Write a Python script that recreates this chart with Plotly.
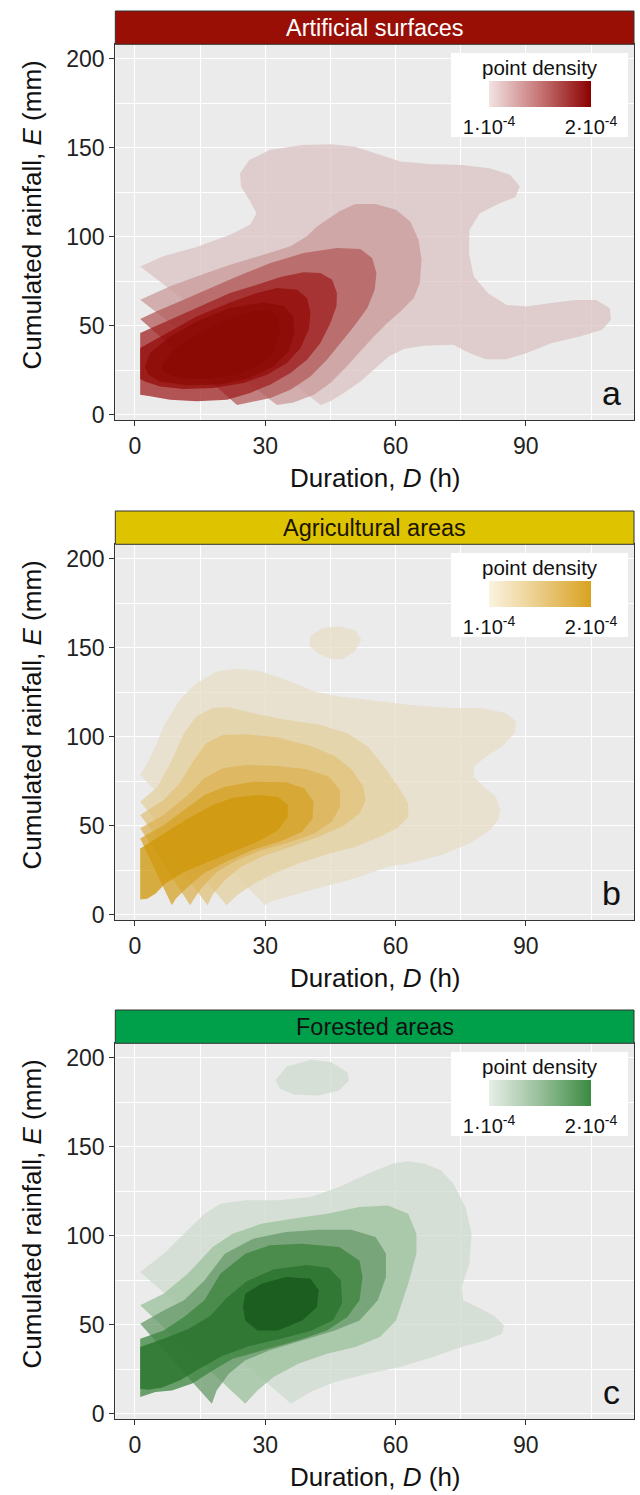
import plotly.graph_objects as go

W, H = 640, 1495

# ---------------------------------------------------------------------------
# Density level outlines (outer level first): duration D (h), rainfall E (mm)
# ---------------------------------------------------------------------------
ART_D = [
    [1.2, 6.5, 14.2, 21.9, 26.5, 28.0, 26.3, 24.4, 24.2, 26.3, 31.0, 38.5, 45.1, 50.7, 56.4, 61.1, 67.6,
     75.2, 81.7, 86.4, 88.6, 87.6, 83.6, 79.4, 77.0, 76.9, 78.0, 81.3, 85.5, 90.2, 95.8, 101.5, 106.2,
     109.3, 109.6, 107.6, 102.4, 95.8, 90.2, 85.5, 80.8, 77.0, 73.3, 66.5, 61.9, 58.5, 55.4, 51.9, 48.1,
     45.0, 42.8],
    [1.2, 8.1, 14.2, 21.9, 29.6, 35.8, 39.6, 41.9, 47.0, 50.7, 55.4, 60.1, 63.4, 65.3, 66.0, 65.6, 64.2,
     61.2, 58.1, 55.0, 51.9, 48.8, 45.0, 41.2, 36.5, 32.7],
    [1.2, 5.0, 10.4, 16.5, 23.5, 31.2, 38.8, 46.5, 51.9, 54.6, 55.6, 55.2, 53.5, 50.4, 47.3, 44.2, 40.4,
     35.8, 31.2, 26.5, 23.5],
    [1.2, 5.0, 10.4, 16.5, 21.9, 28.1, 33.5, 38.8, 42.7, 45.4, 46.5, 46.4, 45.0, 42.7, 39.6, 35.8, 31.2,
     26.5, 21.2, 14.2, 8.1, 3.5, 1.2],
    [1.2, 6.5, 14.2, 21.9, 28.1, 32.7, 37.3, 39.6, 40.4, 40.0, 38.1, 35.0, 30.4, 25.0, 18.1, 11.2, 5.8,
     2.3, 1.2],
    [2.3, 3.5, 8.1, 14.2, 21.9, 29.6, 34.2, 36.4, 36.7, 35.4, 31.9, 26.5, 19.6, 11.9, 5.8, 3.1],
    [6.2, 8.8, 14.2, 21.2, 27.3, 31.2, 33.1, 33.3, 31.9, 28.8, 23.5, 16.5, 10.4, 6.9],
]
ART_E = [
    [83.3, 89.0, 94.2, 101.1, 106.7, 113.2, 120.7, 128.2, 135.6, 143.1, 148.7, 151.5, 152.0, 150.6, 146.0,
     142.2, 140.9, 140.3, 138.4, 134.7, 128.2, 122.2, 118.4, 113.2, 103.8, 90.7, 77.6, 68.3, 61.7, 60.8,
     62.7, 64.5, 64.5, 59.9, 53.3, 47.7, 44.0, 40.2, 34.6, 31.2, 31.2, 34.6, 39.3, 38.8, 36.9, 32.8, 26.2,
     18.7, 12.2, 7.5, 5.4],
    [64.6, 72.1, 77.7, 84.3, 89.9, 94.6, 100.2, 105.8, 114.1, 118.4, 118.4, 115.1, 108.5, 98.2, 87.0, 74.0,
     65.5, 58.1, 51.5, 44.0, 35.6, 27.2, 17.8, 11.2, 6.9, 5.4],
    [53.7, 58.1, 63.7, 70.2, 77.7, 85.2, 90.8, 93.6, 93.1, 88.0, 79.6, 70.2, 59.9, 49.6, 40.3, 30.9, 21.5,
     14.0, 9.4, 6.9, 5.4],
    [45.9, 50.0, 56.2, 62.7, 68.4, 73.0, 77.3, 80.0, 79.6, 75.8, 68.4, 60.9, 51.5, 40.3, 30.9, 23.4, 16.9,
     12.2, 8.4, 7.5, 8.4, 10.3, 11.2],
    [37.5, 44.9, 55.2, 63.1, 68.4, 71.2, 70.2, 65.5, 57.1, 47.8, 37.5, 29.0, 22.5, 17.8, 15.0, 14.4, 15.9,
     18.7, 20.0],
    [27.2, 34.6, 44.0, 52.4, 59.9, 63.1, 61.2, 55.2, 45.9, 35.6, 27.2, 20.6, 16.9, 16.5, 18.7, 22.5],
    [27.2, 36.5, 44.9, 53.4, 58.1, 58.6, 54.3, 45.9, 35.6, 28.1, 22.5, 20.0, 20.4, 23.4],
]
ART_ISLAND_D = []
ART_ISLAND_E = []

AGR_D = [
    [1.2, 2.8, 4.7, 6.6, 10.3, 14.1, 18.8, 23.5, 29.1, 34.8, 41.3, 47.0, 53.6, 62.9, 72.3, 79.9, 85.5,
     87.8, 87.4, 84.5, 80.8, 78.0, 78.0, 80.3, 83.1, 84.1, 83.6, 81.7, 77.0, 70.5, 62.9, 58.2, 51.7, 46.0,
     40.4, 34.8, 31.0, 29.9],
    [1.2, 5.2, 8.5, 11.3, 14.1, 17.9, 21.6, 27.2, 34.8, 42.3, 48.9, 53.6, 57.3, 60.6, 62.9, 62.9, 60.6,
     56.4, 50.7, 44.2, 37.6, 32.0, 27.2, 23.5, 21.1],
    [1.2, 6.6, 10.3, 13.6, 16.4, 20.2, 25.4, 32.9, 40.4, 46.0, 50.0, 52.6, 53.1, 51.7, 47.9, 42.3, 35.7,
     29.1, 24.4, 20.7, 18.0, 16.7],
    [1.2, 6.6, 12.2, 16.0, 20.2, 25.4, 32.9, 39.5, 44.6, 47.2, 47.2, 45.3, 41.3, 35.7, 29.1, 23.5, 18.8,
     15.5, 13.6, 12.7],
    [1.2, 6.6, 11.3, 16.0, 20.7, 27.2, 34.8, 39.0, 41.1, 40.9, 38.5, 33.8, 27.2, 21.6, 16.0, 11.7, 9.4, 8.5],
    [1.2, 6.6, 12.2, 17.9, 22.5, 28.2, 32.9, 35.2, 35.2, 32.9, 28.2, 22.5, 16.9, 11.3, 7.0, 4.7, 2.8, 1.2],
]
AGR_E = [
    [78.5, 85.1, 94.5, 105.7, 120.8, 130.1, 136.7, 138.2, 136.7, 132.0, 125.4, 122.6, 120.8, 117.9, 116.1,
     116.1, 113.2, 108.5, 102.0, 94.5, 88.8, 83.2, 77.6, 71.9, 66.3, 58.8, 53.1, 47.5, 40.0, 33.4, 28.7,
     26.9, 21.2, 17.5, 13.7, 10.0, 7.1, 5.3],
    [63.5, 71.9, 86.9, 102.0, 111.4, 116.1, 116.6, 113.2, 109.5, 106.9, 102.0, 94.5, 83.2, 71.9, 62.5, 55.0,
     49.0, 43.8, 38.1, 34.0, 28.7, 23.1, 17.1, 10.9, 5.3],
    [56.0, 64.4, 73.8, 86.9, 96.3, 101.0, 101.4, 99.5, 94.8, 89.2, 81.3, 71.9, 64.4, 56.9, 49.8, 43.8, 38.1,
     32.5, 26.9, 19.3, 11.8, 5.3],
    [48.5, 56.0, 67.2, 76.6, 82.3, 84.1, 83.6, 81.7, 77.6, 70.0, 60.7, 52.2, 45.6, 40.9, 36.2, 30.6, 24.0,
     15.6, 9.0, 5.3],
    [42.8, 50.3, 58.8, 67.2, 71.9, 74.7, 74.4, 71.0, 63.5, 54.1, 46.6, 41.5, 36.5, 30.5, 23.5, 14.6, 9.0, 5.3],
    [37.2, 45.6, 54.1, 61.6, 65.7, 67.2, 66.3, 61.6, 55.0, 47.5, 40.9, 35.3, 29.7, 24.0, 17.5, 11.8, 9.0, 8.5],
]
AGR_ISLAND_D = [40.4, 43.2, 47.0, 50.7, 52.1, 50.7, 47.9, 45.1, 42.3, 40.2]
AGR_ISLAND_E = [156.8, 161.1, 162.0, 159.8, 154.5, 148.0, 143.7, 143.7, 146.6, 150.8]

FOR_D = [
    [1.2, 6.6, 11.3, 16.0, 19.7, 25.4, 32.9, 40.4, 47.0, 53.6, 59.2, 62.9, 66.7, 70.5, 73.3, 76.1, 77.5,
     77.0, 75.2, 75.6, 78.9, 82.6, 85.0, 84.5, 80.8, 75.2, 68.6, 61.1, 53.6, 46.0, 40.4, 35.9],
    [1.2, 6.6, 12.2, 17.9, 22.5, 29.1, 36.6, 44.2, 51.7, 58.2, 62.9, 64.8, 64.8, 62.9, 60.1, 56.4, 50.7,
     44.2, 37.6, 31.9, 28.2, 25.4],
    [1.2, 6.6, 11.3, 16.0, 20.7, 27.2, 34.8, 42.3, 49.8, 55.4, 57.8, 57.8, 55.9, 51.7, 46.0, 38.5, 31.0,
     25.4, 21.6, 18.8, 17.7],
    [1.2, 6.6, 11.3, 16.0, 19.7, 25.4, 31.0, 38.5, 47.0, 51.7, 52.4, 51.7, 48.9, 44.2, 37.6, 29.1, 22.5,
     17.9, 13.2, 8.5, 4.7, 1.2],
    [1.2, 6.6, 12.2, 17.4, 21.1, 25.8, 31.9, 39.5, 44.6, 47.4, 47.7, 45.6, 40.4, 33.8, 26.3, 20.2, 15.0,
     10.3, 6.1, 3.0, 1.2],
    [24.9, 25.4, 29.1, 34.8, 40.4, 42.3, 41.9, 38.5, 32.9, 28.2, 25.4],
]
FOR_E = [
    [79.6, 89.9, 101.1, 112.4, 118.0, 119.9, 119.9, 121.7, 127.3, 134.8, 140.4, 141.9, 140.4, 136.7, 129.2,
     116.1, 101.1, 84.3, 71.2, 63.7, 59.9, 55.2, 49.6, 44.9, 41.2, 37.5, 31.8, 26.2, 22.5, 17.8, 12.2, 5.6],
    [60.9, 67.4, 78.7, 93.6, 101.1, 106.7, 109.6, 112.4, 116.1, 117.0, 112.4, 101.1, 89.9, 73.0, 52.4, 43.1,
     37.5, 33.7, 28.1, 20.6, 13.1, 5.6],
    [50.6, 58.0, 63.7, 74.9, 89.9, 98.3, 102.1, 103.4, 103.4, 99.3, 89.9, 76.8, 63.7, 52.4, 46.8, 41.2, 35.6,
     30.0, 22.5, 13.1, 5.6],
    [42.1, 46.8, 54.3, 63.7, 78.7, 89.9, 94.6, 95.5, 93.6, 86.1, 76.8, 63.7, 54.3, 46.8, 41.2, 35.6, 30.9,
     24.3, 16.9, 13.1, 12.2, 9.4],
    [37.5, 42.1, 47.5, 55.0, 65.0, 74.5, 81.0, 83.5, 82.0, 75.0, 62.0, 52.5, 46.5, 42.3, 38.0, 32.5, 25.5,
     18.7, 14.6, 13.5, 14.0],
    [59.9, 67.4, 73.0, 76.8, 75.8, 69.3, 59.9, 52.4, 46.8, 46.8, 52.4],
]
FOR_ISLAND_D = [32.4, 34.8, 40.4, 45.1, 48.9, 49.3, 47.0, 42.3, 36.6, 33.4]
FOR_ISLAND_E = [187.3, 194.8, 198.9, 197.6, 191.9, 187.3, 181.6, 178.8, 179.4, 182.6]

TITLES = ["Artificial surfaces", "Agricultural areas", "Forested areas"]
TAGS = ["a", "b", "c"]
X_TICKS = [0, 30, 60, 90]
X_MINOR = [15, 45, 75, 105]
Y_TICKS = [0, 50, 100, 150, 200]
Y_MINOR = [25, 75, 125, 175]
X_RANGE = [-4.53, 114.9]
Y_RANGE = [-3.15, 208.1]
DENSITY_LIMITS = [1e-4, 2e-4]
DENSITY_LABELS = ["1\u00b710<sup>-4</sup>", "2\u00b710<sup>-4</sup>"]

# ---------------------------------------------------------------------------
# Styling
# ---------------------------------------------------------------------------
FONT = "Liberation Sans, Arial, Helvetica, sans-serif"
LEVEL_ALPHA = 0.75
LEVEL_FILLS = [
    ["219,195,195", "203,153,153", "179,91,91", "159,33,33", "147,12,9", "140,11,4", "138,9,1"],
    ["231,222,199", "228,208,160", "224,193,123", "220,179,86", "213,163,41", "207,151,8"],
    ["207,219,207", "155,192,155", "103,153,106", "60,132,63", "39,113,43", "20,85,25"],
]
STRIP_FILL = ["#9A0F05", "#DEC300", "#00A04A"]
STRIP_TEXT = ["#FFFFFF", "#1A1400", "#111111"]
RAMPS = [
    [[0, "#F2E1E1"], [0.5, "#C57474"], [1, "#8B0000"]],
    [[0, "#FAF3DF"], [0.5, "#EACB85"], [1, "#D9A21F"]],
    [[0, "#E6EEE6"], [0.5, "#97BE99"], [1, "#3A8A42"]],
]

# pixel geometry of one panel row
PLOT_L, PLOT_R = 115.3, 634.0
STRIP_T, STRIP_B, PLOT_B = 11.0, 44.3, 420.3
ROW_OFFSETS = [0, 500, 999]
KEY_BOX = (451, 53, 628, 137)
KEY_BAR = (489, 81, 591, 107)


def fx(px):
    return px / W


def fy(py):
    return 1 - py / H


def axis_name(kind, n):
    return kind if n == 1 else f"{kind}{n}"


fig = go.Figure()

panel_levels = [(ART_D, ART_E, ART_ISLAND_D, ART_ISLAND_E),
                (AGR_D, AGR_E, AGR_ISLAND_D, AGR_ISLAND_E),
                (FOR_D, FOR_E, FOR_ISLAND_D, FOR_ISLAND_E)]

shapes, annotations = [], []

# --- panels: density polygons, axes, strips, titles ---
for i, (lev_d, lev_e, isl_d, isl_e) in enumerate(panel_levels):
    off = ROW_OFFSETS[i]
    n = i + 1
    xa, ya = ("x", "y") if n == 1 else (f"x{n}", f"y{n}")
    for k, (d, e) in enumerate(zip(lev_d, lev_e)):
        fill = f"rgba({LEVEL_FILLS[i][k]},{LEVEL_ALPHA})"
        fig.add_trace(go.Scatter(x=d, y=e, mode="lines", fill="toself", fillcolor=fill,
                                 line=dict(width=0, color="rgba(0,0,0,0)"),
                                 hoverinfo="skip", showlegend=False, xaxis=xa, yaxis=ya))
        if k == 0 and isl_d:
            fig.add_trace(go.Scatter(x=isl_d, y=isl_e, mode="lines", fill="toself", fillcolor=fill,
                                     line=dict(width=0, color="rgba(0,0,0,0)"),
                                     hoverinfo="skip", showlegend=False, xaxis=xa, yaxis=ya))

    axis_common = dict(showline=True, mirror=True, linecolor="#333333", linewidth=1.2,
                       ticks="outside", ticklen=5, tickwidth=1.1, tickcolor="#333333",
                       showgrid=True, gridcolor="#FFFFFF", gridwidth=1.2, zeroline=False,
                       automargin=False,
                       tickfont=dict(family=FONT, size=23, color="#222222"), fixedrange=True)
    fig.update_layout(**{
        axis_name("xaxis", n): dict(
            axis_common, domain=[fx(PLOT_L), fx(PLOT_R)], range=X_RANGE, anchor=ya,
            tickvals=X_TICKS,
            minor=dict(tickvals=X_MINOR, showgrid=True, gridcolor="#FFFFFF", gridwidth=0.6, ticks="")),
        axis_name("yaxis", n): dict(
            axis_common, domain=[fy(PLOT_B + off), fy(STRIP_B + off)], range=Y_RANGE, anchor=xa,
            tickvals=Y_TICKS,
            minor=dict(tickvals=Y_MINOR, showgrid=True, gridcolor="#FFFFFF", gridwidth=0.6, ticks="")),
    })

    # facet strip
    shapes.append(dict(type="rect", xref="paper", yref="paper",
                       x0=fx(PLOT_L), x1=fx(PLOT_R), y0=fy(STRIP_B + off), y1=fy(STRIP_T + off),
                       fillcolor=STRIP_FILL[i], line=dict(color="#333333", width=1), layer="above"))
    annotations.append(dict(xref="paper", yref="paper", x=fx((PLOT_L + PLOT_R) / 2),
                            y=fy((STRIP_T + STRIP_B) / 2 + off + 0.5), text=TITLES[i], showarrow=False,
                            font=dict(family=FONT, size=23.5, color=STRIP_TEXT[i]),
                            xanchor="center", yanchor="middle"))

    # axis titles and panel tag
    annotations.append(dict(xref="paper", yref="paper", x=fx(31.5), y=fy(215 + off),
                            text="Cumulated rainfall, <i>E</i> (mm)", textangle=-90, showarrow=False,
                            font=dict(family=FONT, size=26, color="#111111"),
                            xanchor="center", yanchor="middle"))
    annotations.append(dict(xref="paper", yref="paper", x=fx(375), y=fy(478 + off),
                            text="Duration, <i>D</i> (h)", showarrow=False,
                            font=dict(family=FONT, size=26, color="#111111"),
                            xanchor="center", yanchor="middle"))
    annotations.append(dict(xref="paper", yref="paper", x=fx(611), y=fy(393 + off),
                            text=TAGS[i], showarrow=False,
                            font=dict(family=FONT, size=34, color="#111111"),
                            xanchor="center", yanchor="middle"))
    annotations.append(dict(xref="paper", yref="paper", x=fx((KEY_BOX[0] + KEY_BOX[2]) / 2 + 0.5),
                            y=fy(67 + off), text="point density", showarrow=False,
                            font=dict(family=FONT, size=20.5, color="#111111"),
                            xanchor="center", yanchor="middle"))

# --- density keys: white backing boxes (drawn first), then gradient bars ---
for i in range(3):
    off = ROW_OFFSETS[i]
    bn = 4 + i
    bx, by = f"x{bn}", f"y{bn}"
    bx0, by0, bx1, by1 = KEY_BOX
    fig.add_trace(go.Heatmap(x=[0, 1], y=[0, 1], z=[[0, 0], [0, 0]], zmin=0, zmax=1,
                             colorscale=[[0, "#FFFFFF"], [1, "#FFFFFF"]], showscale=False,
                             hoverinfo="skip", xaxis=bx, yaxis=by))
    fig.update_layout(**{
        f"xaxis{bn}": dict(domain=[fx(bx0), fx(bx1)], range=[0, 1], anchor=by, visible=False,
                           automargin=False, fixedrange=True),
        f"yaxis{bn}": dict(domain=[fy(by1 + off), fy(by0 + off)], range=[0, 1], anchor=bx,
                           visible=False, automargin=False, fixedrange=True),
    })

for i in range(3):
    off = ROW_OFFSETS[i]
    kn = 7 + i
    kx, ky = f"x{kn}", f"y{kn}"
    cx0, cy0, cx1, cy1 = KEY_BAR
    fig.add_trace(go.Heatmap(x=DENSITY_LIMITS, y=[0, 1], z=[DENSITY_LIMITS, DENSITY_LIMITS],
                             zmin=DENSITY_LIMITS[0], zmax=DENSITY_LIMITS[1], zsmooth="best",
                             colorscale=RAMPS[i], showscale=False, hoverinfo="skip",
                             xaxis=kx, yaxis=ky))
    fig.update_layout(**{
        f"xaxis{kn}": dict(domain=[fx(cx0), fx(cx1)], range=DENSITY_LIMITS, anchor=ky,
                           tickvals=DENSITY_LIMITS, ticktext=DENSITY_LABELS, ticks="",
                           ticklabelstandoff=6, automargin=False,
                           showgrid=False, zeroline=False, showline=False, fixedrange=True,
                           tickfont=dict(family=FONT, size=20, color="#111111")),
        f"yaxis{kn}": dict(domain=[fy(cy1 + off), fy(cy0 + off)], range=[0, 1], anchor=kx,
                           visible=False, automargin=False, fixedrange=True),
    })

fig.update_layout(width=W, height=H, margin=dict(l=0, r=0, t=0, b=0, autoexpand=False),
                  paper_bgcolor="#FFFFFF", plot_bgcolor="#EBEBEB",
                  shapes=shapes, annotations=annotations, showlegend=False,
                  font=dict(family=FONT))

fig.write_html("out.html", config={"displayModeBar": False})
